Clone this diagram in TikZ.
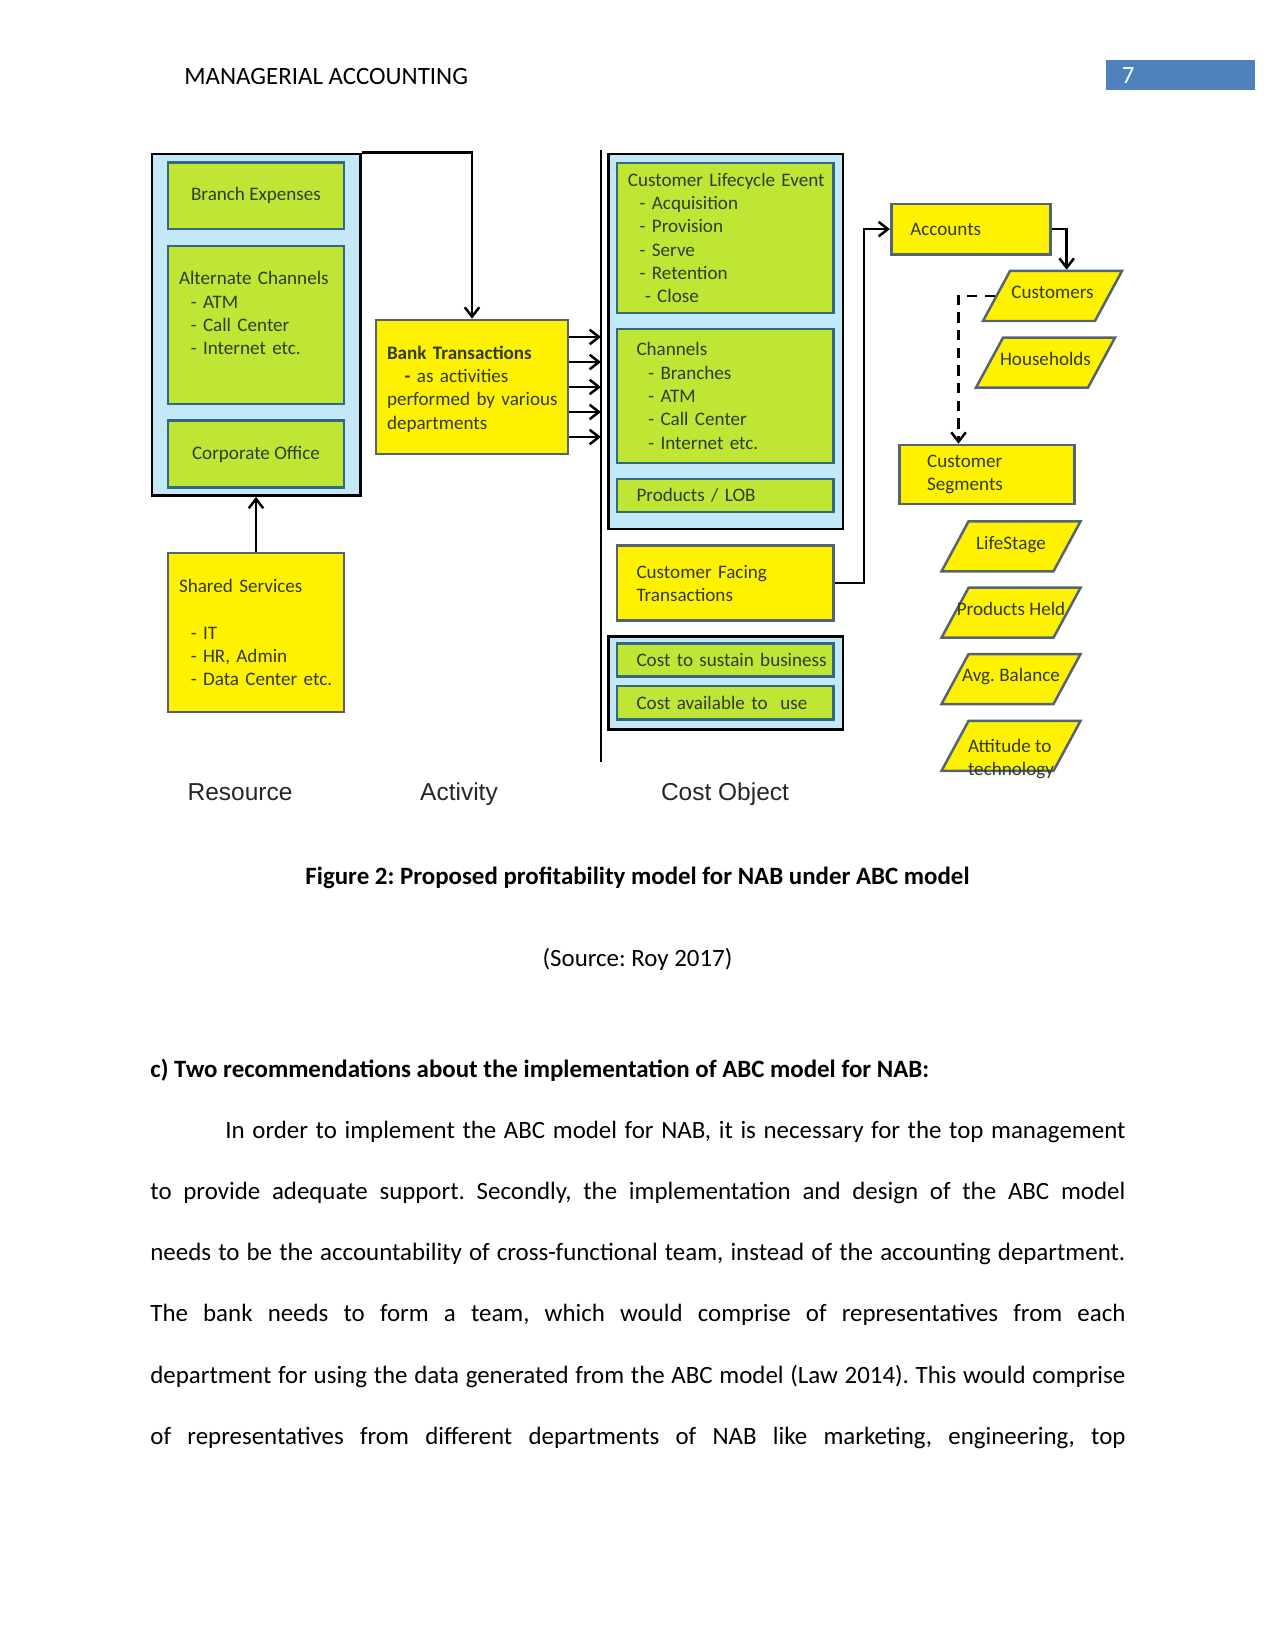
\documentclass[tikz,border=0pt]{standalone}
\usepackage{fontspec}
\setmainfont{Carlito}
\newfontfamily\labelfont{Liberation Sans}
\usetikzlibrary{shapes.geometric,arrows.meta}
\frenchspacing

\definecolor{paneblue}{RGB}{195,232,248}
\definecolor{leafgreen}{RGB}{191,230,52}
\definecolor{edgeteal}{RGB}{50,104,132}
\definecolor{edgeslate}{RGB}{84,100,116}
\definecolor{boxtext}{RGB}{52,58,40}
\definecolor{pageblue}{RGB}{79,129,189}
\definecolor{labelgray}{RGB}{38,38,38}

\newcommand{\boxfont}{\fontsize{9.2}{11.25}\selectfont}
\newcommand{\bodyfont}{\fontsize{12}{14.4}\selectfont}

\begin{document}
\begin{tikzpicture}[
    holder/.style={draw=black, fill=paneblue, line width=1.4pt, inner sep=0pt},
    green box/.style={draw=edgeteal, fill=leafgreen, line width=1.3pt, text=boxtext, font=\boxfont, align=left, inner ysep=0pt},
    yellow box/.style={draw=edgeslate, fill=yellow, line width=1.3pt, text=boxtext, font=\boxfont, align=left, inner ysep=0pt},
    attr/.style={trapezium, trapezium left angle=61.6, trapezium right angle=118.4, trapezium stretches body,
        draw=edgeslate, fill=yellow, line width=1.2pt, minimum width=2.354cm,
        text height=0.4735cm, text depth=0.3735cm, inner sep=0pt, text=boxtext, font=\boxfont},
    flow/.style={-{Straight Barb[length=4.5pt, width=7pt]}, line width=1.2pt},
    dashed link/.style={dash pattern=on 5pt off 3.5pt},
    axis label/.style={anchor=base, font=\labelfont\fontsize{11.8}{14}\selectfont, text=labelgray},
    body line/.style={anchor=base west, inner sep=0pt, font=\bodyfont}
]

% Page
\path[use as bounding box, fill=white] (0,0) rectangle (21.59,-27.94);

% Running head
\node[body line] (header) at (3.116,-1.436) {MANAGERIAL ACCOUNTING};
\node[fill=pageblue, text=white, font=\bodyfont, anchor=west, minimum height=0.48cm,
      text width=1.99cm, inner xsep=0.27cm, align=left] (pageno) at (18.72,-1.274) {7};

% Resource column
\node[holder, minimum width=3.531cm, minimum height=5.782cm] (resource) at (4.339,-5.499) {};
\node[green box, align=center, minimum width=2.980cm, minimum height=1.123cm] (branch) at (4.335,-3.316) {Branch Expenses};
\node[green box, text width=2.607cm, inner xsep=0.186cm, minimum height=2.675cm] (altchan) at (4.335,-5.503)
    {\mbox{Alternate Channels}\\\hspace*{0.2cm}- ATM\\\hspace*{0.2cm}- Call Center\\\hspace*{0.2cm}- Internet etc.\\\mbox{}};
\node[green box, align=center, minimum width=2.980cm, minimum height=1.134cm] (corp) at (4.335,-7.691) {Corporate Office};

\node[yellow box, text width=2.607cm, inner xsep=0.186cm, minimum height=2.692cm] (shared) at (4.335,-10.710)
    {Shared Services\\\mbox{}\\\hspace*{0.2cm}- IT\\\hspace*{0.2cm}- HR, Admin\\\hspace*{0.2cm}\mbox{- Data Center etc.}};

\draw[flow] (shared.north) -- (shared.north |- resource.south);

% Activity
\node[yellow box, text width=2.879cm, inner xsep=0.186cm, minimum height=2.269cm] (bank) at (7.993,-6.553)
    {\rule{0pt}{0.3cm}\mbox{\textbf{Bank Transactions}}\\\hspace*{0.3cm}\textbf{-} as activities\\\mbox{performed by various}\\departments};

\draw[flow] (resource.north east) -| (bank.north);

% Separator
\coordinate (sep top) at (10.177,-2.540);
\coordinate (sep bottom) at (10.177,-12.898);
\draw[line width=1.4pt] (sep top) -- (sep bottom);

\foreach \dy in {-0.847,-0.423,0,0.423,0.847}
    \draw[flow] ([yshift=\dy cm]bank.east) -- ([yshift=\dy cm]bank.east -| sep top);

% Cost Object column
\node[holder, minimum width=3.964cm, minimum height=6.350cm] (costobj) at (12.293,-5.783) {};
\node[green box, text width=3.301cm, inner xsep=0.186cm, minimum height=2.540cm] (lifecycle) at (12.283,-4.030)
    {\mbox{Customer Lifecycle Event}\\\hspace*{0.2cm}- Acquisition\\\hspace*{0.2cm}- Provision\\\hspace*{0.2cm}- Serve\\\hspace*{0.2cm}- Retention\\\hspace*{0.29cm}- Close};
\node[green box, text width=3.009cm, inner xsep=0.332cm, minimum height=2.269cm] (channels) at (12.283,-6.706)
    {Channels\\\hspace*{0.2cm}- Branches\\\hspace*{0.2cm}- ATM\\\hspace*{0.2cm}- Call Center\\\hspace*{0.2cm}- Internet etc.};
\node[green box, text width=3.009cm, inner xsep=0.332cm, minimum height=0.559cm] (products) at (12.283,-8.390) {Products / LOB};

\node[yellow box, text width=3.009cm, inner xsep=0.332cm, minimum height=1.270cm] (cft) at (12.283,-9.876)
    {Customer Facing\\Transactions};

\node[holder, minimum width=3.964cm, minimum height=1.568cm] (costbase) at (12.293,-11.565) {};
\node[green box, text width=3.009cm, inner xsep=0.332cm, minimum height=0.565cm] (sustain) at (12.283,-11.176) {\mbox{Cost to sustain business}};
\node[green box, text width=3.009cm, inner xsep=0.332cm, minimum height=0.564cm] (available) at (12.283,-11.898) {\mbox{Cost available to~ use}};

% Customer side
\node[yellow box, text width=2.050cm, inner xsep=0.322cm, minimum height=0.852cm] (accounts) at (16.440,-3.880) {Accounts};
\node[attr] (customers) at (17.822,-5.012) {\makebox[0pt]{Customers}};
\node[attr] (households) at (17.704,-6.140) {\makebox[0pt]{Households}};
\node[yellow box, text width=2.026cm, inner xsep=0.474cm, minimum height=0.999cm] (segments) at (16.713,-8.035)
    {Customer\\Segments};

\node[attr] (lifestage) at (17.12,-9.251) {\makebox[0pt]{LifeStage}};
\node[attr] (held) at (17.12,-10.375) {\makebox[0pt]{Products Held}};
\node[attr] (balance) at (17.12,-11.498) {\makebox[0pt]{Avg. Balance}};
\node[attr] (attitude) at (17.12,-12.630)
    {\makebox[0pt]{\raisebox{-0.26cm}[0pt][0pt]{\begin{tabular}{@{}l@{}}Attitude to\\technology\end{tabular}}}};

\draw[flow] (cft.east) -- ++(0.49,0) |- (accounts.west);
\draw[flow] (accounts.east) -| (customers.top side);
\draw[flow, dashed link] (customers.left side) -| ([xshift=-0.482cm]segments.north);

% Column labels
\node[axis label] (resource label) at (4.064,-13.552) {Resource};
\node[axis label] (activity label) at (7.772,-13.552) {Activity};
\node[axis label] (cost label) at (12.277,-13.552) {Cost Object};

% Caption and text
\node[anchor=base, font=\bodyfont\bfseries] (caption) at (10.795,-14.976)
    {Figure 2: Proposed profitability model for NAB under ABC model};
\node[anchor=base, font=\bodyfont] (source) at (10.795,-16.365) {(Source: Roy 2017)};
\node[body line, font=\bodyfont\bfseries] (heading) at (2.540,-18.253)
    {c) Two recommendations about the implementation of ABC model for NAB:};

\node[body line] (line1) at (3.810,-19.286)
    {\hbox to 15.24cm{In order to implement the ABC model for NAB, it is necessary for the top management}};
\node[body line] (line2) at (2.540,-20.319)
    {\hbox to 16.51cm{to provide adequate support. Secondly, the implementation and design of the ABC model}};
\node[body line] (line3) at (2.540,-21.352)
    {\hbox to 16.51cm{needs to be the accountability of cross-functional team, instead of the accounting department.}};
\node[body line] (line4) at (2.540,-22.385)
    {\hbox to 16.51cm{The bank needs to form a team, which would comprise of representatives from each}};
\node[body line] (line5) at (2.540,-23.419)
    {\hbox to 16.51cm{department for using the data generated from the ABC model (Law 2014). This would comprise}};
\node[body line] (line6) at (2.540,-24.452)
    {\hbox to 16.51cm{of representatives from different departments of NAB like marketing, engineering, top}};

\end{tikzpicture}
\end{document}
